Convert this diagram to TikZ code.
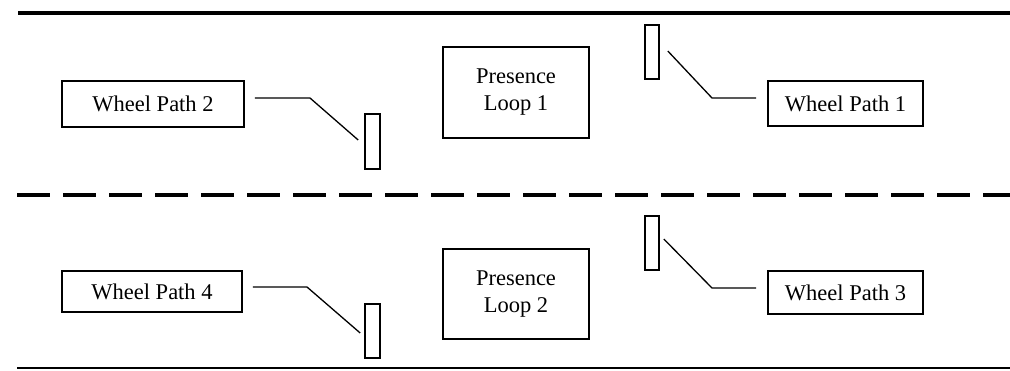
\documentclass[tikz,border=0pt]{standalone}
\usepackage{fontspec}
\setmainfont{Liberation Serif}
\begin{document}
\begin{tikzpicture}[x=1pt,y=-1pt,
  lab/.style={draw,line width=1.6pt,align=center,inner sep=0pt,
    font=\fontsize{22.5}{27}\selectfont},
  sensor/.style={draw,line width=1.6pt,minimum width=15pt,minimum height=55pt,inner sep=0pt},
  lead/.style={line width=1.3pt},
  edge line/.style={line width=4pt}]
\useasboundingbox (0,0) rectangle (1010,370);

% road edges and lane divider
\draw[edge line] (18,13) -- (1010,13);
\draw[edge line,dash pattern=on 33pt off 13pt] (17,195) -- (1010,195);
\draw[line width=1.5pt] (17,368) -- (1010,368);

% upper lane
\node[lab,minimum width=182pt,minimum height=46pt] (wp2) at (153,104) {Wheel Path 2};
\node[lab,minimum width=146pt,minimum height=91pt] (pl1) at (516,92.5) {Presence\\Loop 1};
\node[lab,minimum width=155pt,minimum height=45pt] (wp1) at (845.5,103.5) {Wheel Path 1};
\node[sensor] (s2) at (372.5,141.5) {};
\node[sensor,minimum width=14pt,minimum height=54pt] (s1) at (652,52) {};

% lower lane
\node[lab,minimum width=180pt,minimum height=41pt] (wp4) at (152,291.5) {Wheel Path 4};
\node[lab,minimum width=146pt,minimum height=90pt] (pl2) at (516,294) {Presence\\Loop 2};
\node[lab,minimum width=155pt,minimum height=43pt] (wp3) at (845.5,292.5) {Wheel Path 3};
\node[sensor,minimum height=54pt] (s4) at (372.5,331) {};
\node[sensor,minimum width=14pt,minimum height=54pt] (s3) at (652,243) {};

% leader lines from labels to sensors
\coordinate (b2) at (310,98);
\coordinate (b1) at (712,98);
\coordinate (b4) at (307,287);
\coordinate (b3) at (712,288);

\draw[lead] (wp2.east |- b2) ++(10,0) -- (b2) -- ([xshift=-6pt,yshift=1.5pt]s2.west);
\draw[lead] (wp1.west |- b1) ++(-11,0) -- (b1) -- ([xshift=8pt,yshift=1pt]s1.east);
\draw[lead] (wp4.east |- b4) ++(10,0) -- (b4) -- ([xshift=-4pt,yshift=-2pt]s4.west);
\draw[lead] (wp3.west |- b3) ++(-11,0) -- (b3) -- ([xshift=4pt,yshift=4pt]s3.east);
\end{tikzpicture}
\end{document}
